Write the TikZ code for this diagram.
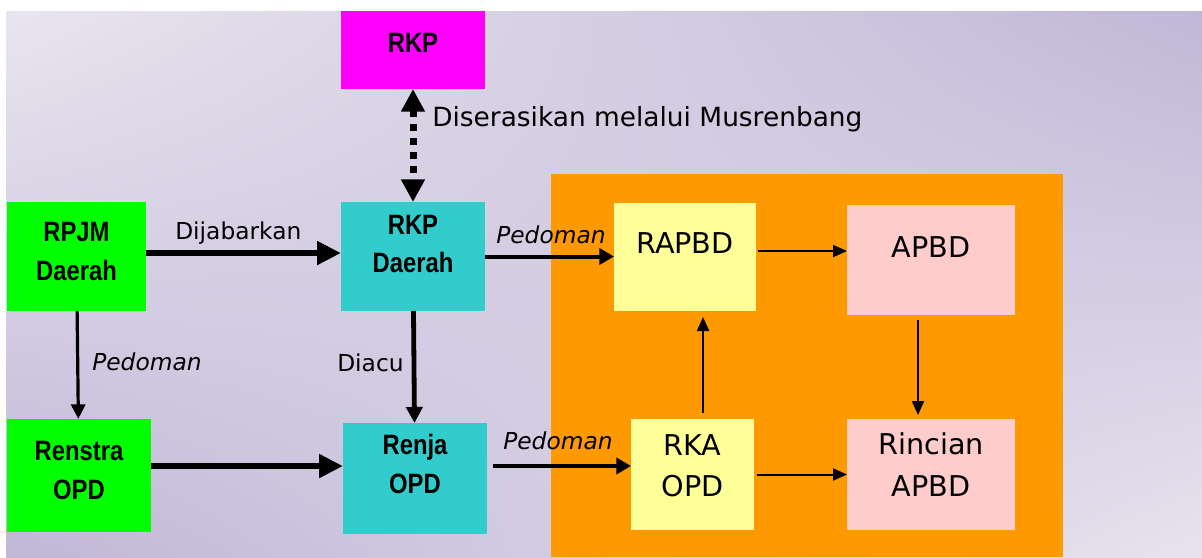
\documentclass[tikz,border=0pt]{standalone}
\usepackage{fontspec}
\setmainfont{DejaVu Sans}
\newfontfamily\boxfont[FakeStretch=0.85]{Liberation Sans}
\usetikzlibrary{arrows.meta,shadings}

\definecolor{bgA}{HTML}{E9E5EF}
\definecolor{bgB}{HTML}{C1B7D7}
\definecolor{bgC}{HTML}{E7E3EE}
\definecolor{rkpmag}{HTML}{FF00FF}
\definecolor{rpjmgreen}{HTML}{00FF00}
\definecolor{rkpteal}{HTML}{33CCCC}
\definecolor{panelorange}{HTML}{FF9900}
\definecolor{apbdyellow}{HTML}{FFFF99}
\definecolor{apbdpink}{HTML}{FFCCCC}

\tikzset{
  box/.style={inner sep=0pt, outer sep=0pt},
  boldtxt/.style={inner sep=0pt, align=center, font=\boxfont\bfseries\fontsize{21}{29}\selectfont},
  plaintxt/.style={inner sep=0pt, align=center, font=\fontsize{21.5}{31}\selectfont},
  lbl/.style={inner sep=0pt, font=\fontsize{17.5}{21}\selectfont},
  bigarrow/.style={line width=5pt, -{Triangle[length=18pt,width=17pt]}},
  midarrow/.style={line width=3.6pt, -{Triangle[length=12pt,width=12pt]}},
  pedarrow/.style={line width=3pt, -{Triangle[length=11pt,width=12pt]}},
  slimarrow/.style={line width=2.4pt, -{Triangle[length=11pt,width=10.5pt]}},
  thinarrow/.style={line width=1.5pt, -{Triangle[length=10.5pt,width=9pt]}},
  syncarrow/.style={line width=5.25pt, dash pattern=on 5pt off 5.5pt,
    {Triangle[length=17pt,width=17pt]}-{Triangle[length=17pt,width=17pt]}}
}

\begin{document}
\begin{tikzpicture}[x=0.75pt, y=-0.75pt]
  % background
  \fill[white] (0,0) rectangle (1202,557);
  \useasboundingbox (0,0) rectangle (1202,557);
  \shade[upper left=bgA, upper right=bgB, lower left=bgB, lower right=bgC] (6,11) rectangle (1202,557);
  \fill[panelorange] (551,174) rectangle (1063,557);

  % planning boxes
  \node[box, fill=rkpmag, minimum width=108pt, minimum height=58.5pt] (rkp) at (413,50) {};
  \node[boldtxt] (rkptxt) at ([yshift=5pt]rkp.center) {RKP};
  \node[box, fill=rpjmgreen, minimum width=104.25pt, minimum height=81.75pt] (rpjm) at (76.5,256.5) {};
  \node[boldtxt] (rpjmtxt) at ([yshift=4pt]rpjm.center) {RPJM\\Daerah};
  \node[box, fill=rkpteal, minimum width=108pt, minimum height=81.75pt] (rkpd) at (413,256.5) {};
  \node[boldtxt] (rkpdtxt) at ([yshift=9.4pt]rkpd.center) {RKP\\Daerah};
  \node[box, fill=rpjmgreen, minimum width=108pt, minimum height=84.75pt] (renstra) at (79,475.5) {};
  \node[boldtxt] (renstratxt) at ([yshift=3.75pt]renstra.center) {Renstra\\OPD};
  \node[box, fill=rkpteal, minimum width=108pt, minimum height=83.25pt] (renja) at (415,478.5) {};
  \node[boldtxt] (renjatxt) at ([yshift=10.9pt]renja.center) {Renja\\OPD};

  % budget boxes
  \node[box, fill=apbdyellow, minimum width=106.5pt, minimum height=81pt] (rapbd) at (685,257) {};
  \node[plaintxt] (rapbdtxt) at ([yshift=10.5pt]rapbd.center) {RAPBD};
  \node[box, fill=apbdpink, minimum width=126pt, minimum height=82.5pt] (apbd) at (931,260) {};
  \node[plaintxt] (apbdtxt) at ([yshift=9.75pt]apbd.center) {APBD};
  \node[box, fill=apbdyellow, minimum width=92.25pt, minimum height=83.25pt] (rka) at (692.5,474.5) {};
  \node[plaintxt] (rkatxt) at ([yshift=6.75pt]rka.center) {RKA\\OPD};
  \node[box, fill=apbdpink, minimum width=126pt, minimum height=83.25pt] (rincian) at (931,474.5) {};
  \node[plaintxt] (rinciantxt) at ([yshift=7.5pt]rincian.center) {Rincian\\APBD};

  % connectors
  \draw[syncarrow] (rkp) -- (rkpd);
  \draw[bigarrow] ([yshift=2.6pt]rpjm.east) -- ([yshift=2.6pt]rpjm.east -| rkpd.west);
  \draw[slimarrow] (rpjm) -- (renstra);
  \draw[midarrow] (rkpd) -- (renja);
  \draw[bigarrow] ([yshift=7.1pt]renstra.east) -- ([yshift=7.1pt]renstra.east -| renja.west);
  \draw[pedarrow] (rkpd.east) -- (rkpd.east -| rapbd.west);
  \draw[pedarrow, shorten <=4.5pt] ([yshift=9.4pt]renja.east) -- ([yshift=9.4pt]renja.east -| rka.west);
  \draw[thinarrow, shorten <=1.5pt] ([yshift=4.5pt]rapbd.east) -- ([yshift=4.5pt]rapbd.east -| apbd.west);
  \draw[thinarrow, shorten <=4.5pt, shorten >=4.5pt] ([xshift=7.9pt]rka.north) -- ([xshift=7.9pt]rka.north |- rapbd.south);
  \draw[thinarrow, shorten <=3.5pt, shorten >=3pt] ([xshift=-9.75pt]apbd.south) -- ([xshift=-9.75pt]apbd.south |- rincian.north);
  \draw[thinarrow, shorten <=2pt] (rka.east) -- (rincian.west);

  % labels
  \node[lbl, font=\fontsize{19.8}{23}\selectfont, anchor=base west] (serasi) at (432,126) {Diserasikan melalui Musrenbang};
  \node[lbl, anchor=base west] (jabar) at (175,239) {Dijabarkan};
  \node[lbl, anchor=base west] (pedrenstra) at (92,370) {\itshape Pedoman};
  \node[lbl, anchor=base west] (acu) at (337,371) {Diacu};
  \node[lbl, anchor=base west] (pedrapbd) at (496,243) {\itshape Pedoman};
  \node[lbl, anchor=base west] (pedrka) at (503,449) {\itshape Pedoman};
\end{tikzpicture}
\end{document}
